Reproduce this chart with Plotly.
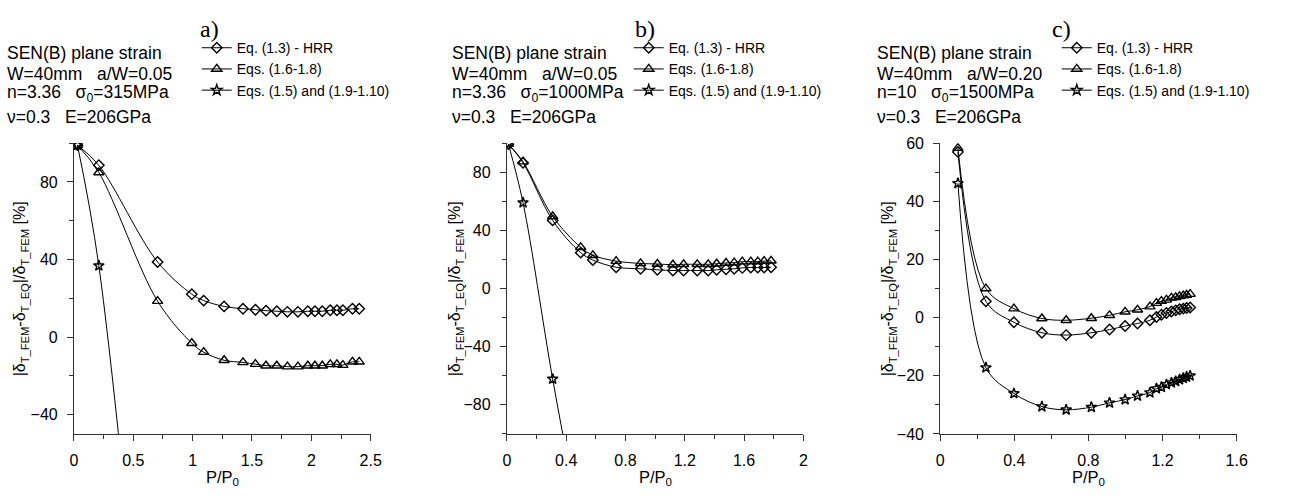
import plotly.graph_objects as go

W, H = 1306, 497

# ---------------- data ----------------
# panel a
xa = [0.03, 0.21, 0.705, 0.993, 1.093, 1.265, 1.424, 1.529, 1.618, 1.709, 1.798,
      1.887, 1.970, 2.030, 2.092, 2.159, 2.215, 2.265, 2.346, 2.403]
a_hrr = [99, 88.6, 38.7, 22.1, 18.8, 15.8, 14.6, 14.1, 13.6, 13.3, 13.0,
         13.0, 13.3, 13.3, 13.3, 13.8, 13.8, 13.8, 14.6, 14.6]
a_eqs = [99, 84.9, 18.5, -3.2, -7.8, -12.0, -13.1, -14.0, -14.8, -14.8, -15.3,
         -15.3, -14.8, -14.8, -14.8, -14.1, -14.1, -14.5, -12.8, -12.8]
xa_star = [0.03, 0.21, 0.705]
a_star = [99, 36.8, -255]

# panel b
xb = [0.01, 0.109, 0.309, 0.498, 0.58, 0.737, 0.902, 1.015, 1.12, 1.192, 1.284,
      1.358, 1.415, 1.478, 1.533, 1.588, 1.645, 1.692, 1.735, 1.782]
b_hrr = [99.5, 86.5, 46.9, 24.7, 19.6, 14.7, 13.6, 12.9, 12.4, 12.4, 12.4,
         12.4, 12.9, 13.3, 13.6, 14.2, 14.5, 14.5, 14.5, 14.7]
b_eqs = [99.5, 87.3, 49.6, 28.4, 22.9, 18.9, 17.3, 16.9, 16.4, 16.7, 16.7,
         16.7, 17.1, 17.6, 17.8, 18.5, 18.5, 18.5, 18.9, 19.1]
xb_star = [0.01, 0.109, 0.309, 0.498]
b_star = [99.5, 59.1, -62.2, -165]

# panel c
xc = [0.096, 0.247, 0.398, 0.549, 0.680, 0.816, 0.914, 0.998, 1.065, 1.132,
      1.167, 1.194, 1.221, 1.248, 1.271, 1.292, 1.312, 1.330, 1.349]
c_hrr = [57, 5.6, -1.6, -5.2, -6.0, -5.2, -4.1, -2.9, -2.0, -0.9,
         0.2, 1.0, 1.6, 2.1, 2.5, 2.9, 3.1, 3.3, 3.5]
c_eqs = [58.3, 10, 3.1, -0.3, -0.9, -0.2, 0.8, 2.0, 2.7, 3.8,
         5.0, 5.7, 6.1, 6.8, 7.0, 7.3, 7.6, 7.8, 8.1]
c_star = [46.2, -17.2, -26.1, -30.6, -31.7, -30.8, -29.3, -28.2, -26.9, -25.8,
          -24.4, -23.9, -23.0, -22.4, -21.9, -21.3, -20.8, -20.4, -20.0]

series_names = ["Eq. (1.3) - HRR", "Eqs. (1.6-1.8)", "Eqs. (1.5) and (1.9-1.10)"]
panel_labels = ["a)", "b)", "c)"]
info_lines = [
    ["SEN(B) plane strain", "W=40mm\u00a0\u00a0\u00a0a/W=0.05",
     "n=3.36\u00a0\u00a0\u00a0σ<sub>0</sub>=315MPa", "ν=0.3\u00a0\u00a0\u00a0E=206GPa"],
    ["SEN(B) plane strain", "W=40mm\u00a0\u00a0\u00a0a/W=0.05",
     "n=3.36\u00a0\u00a0\u00a0σ<sub>0</sub>=1000MPa", "ν=0.3\u00a0\u00a0\u00a0E=206GPa"],
    ["SEN(B) plane strain", "W=40mm\u00a0\u00a0\u00a0a/W=0.20",
     "n=10\u00a0\u00a0\u00a0σ<sub>0</sub>=1500MPa", "ν=0.3\u00a0\u00a0\u00a0E=206GPa"],
]

# ---------------- styling ----------------
FONT = "Liberation Sans, Arial, sans-serif"
SERIF = "Liberation Serif, Times New Roman, serif"
symbols = ["diamond-open", "triangle-up-open", "star-open"]
msizes = [8, 9, 8]

# pixel layout
plot_left = [70.7, 508.7, 947.0]
plot_right = [371.0, 808.7, 1247.0]
plot_top, plot_bottom = 140.0, 441.0
xranges = [[0, 2.5], [0, 2.0], [0, 1.6]]
yranges = [[-50, 100], [-100, 100], [-40, 60]]
xdt = [0.5, 0.4, 0.4]
xmdt = [0.25, 0.2, 0.2]
ydt = [40, 40, 20]
ymdt = [20, 20, 10]
legend_left = [195, 632, 1065]
label_x = [208, 648, 1070]
info_x = [3, 453, 883]
info_y = [47, 68, 89, 113]
ytitle_x = [17, 457, 895]

def px(x):
    return x / W

def py(y):
    return 1 - y / H

fig = go.Figure()

panels = [
    (xa, [a_hrr, a_eqs], xa_star, a_star),
    (xb, [b_hrr, b_eqs], xb_star, b_star),
    (xc, [c_hrr, c_eqs], xc, c_star),
]

annotations = []
for i, (xs, ys2, xstar, ystar) in enumerate(panels):
    ax = "" if i == 0 else str(i + 1)
    leg = "legend" if i == 0 else f"legend{i + 1}"
    data = [(xs, ys2[0]), (xs, ys2[1]), (xstar, ystar)]
    for k, (xx, yy) in enumerate(data):
        fig.add_trace(go.Scatter(
            x=xx, y=yy, mode="lines+markers", name=series_names[k],
            xaxis="x" + ax, yaxis="y" + ax, legend=leg,
            line=dict(color="black", width=1, shape="spline", smoothing=1.0),
            marker=dict(symbol=symbols[k], size=msizes[k], color="black",
                        line=dict(color="black", width=1.4)),
            cliponaxis=True,
        ))
    dom_x = [px(plot_left[i]), px(plot_right[i])]
    dom_y = [py(plot_bottom), py(plot_top)]
    axis_common = dict(showline=True, linecolor="#333", linewidth=1, ticks="outside",
                       tickcolor="#333", ticklen=6, tickwidth=1, showgrid=False,
                       zeroline=False, tickfont=dict(family=FONT, size=16, color="black"))
    fig.update_layout(**{
        "xaxis" + ax: dict(domain=dom_x, range=xranges[i], tick0=0, dtick=xdt[i],
                           anchor="y" + ax, ticklabelstandoff=6,
                           minor=dict(dtick=xmdt[i], ticks="outside", ticklen=4,
                                      tickcolor="#333", showgrid=False),
                           **axis_common),
        "yaxis" + ax: dict(domain=dom_y, range=yranges[i], tick0=0, dtick=ydt[i],
                           anchor="x" + ax, ticklabelstandoff=6,
                           minor=dict(dtick=ymdt[i], ticks="outside", ticklen=4,
                                      tickcolor="#333", showgrid=False),
                           **axis_common),
        leg: dict(x=px(legend_left[i]), y=py(25), xanchor="left", yanchor="top",
                  bgcolor="rgba(0,0,0,0)", borderwidth=0, itemwidth=30,
                  font=dict(family=FONT, size=14, color="black"),
                  tracegroupgap=0, itemclick=False),
    })
    # panel label
    annotations.append(dict(text=panel_labels[i], x=px(label_x[i]), y=py(22),
                            xref="paper", yref="paper", xanchor="center", yanchor="middle",
                            showarrow=False, borderpad=0, borderwidth=0,
                            font=dict(family=SERIF, size=24, color="black")))
    # info text
    for j, t in enumerate(info_lines[i]):
        annotations.append(dict(text=t, x=px(info_x[i]), y=py(info_y[j]),
                                xref="paper", yref="paper", xanchor="left", yanchor="middle",
                                showarrow=False, borderpad=0, borderwidth=0,
                                font=dict(family=FONT, size=17.5, color="black")))
    # y title
    annotations.append(dict(
        text="|δ<sub>T_FEM</sub>-δ<sub>T_EQ</sub>|/δ<sub>T_FEM</sub> [%]",
        x=px(ytitle_x[i]), y=py((plot_top + plot_bottom) / 2), xref="paper", yref="paper",
        xanchor="center", yanchor="middle", textangle=-90, showarrow=False,
        borderpad=0, borderwidth=0,
        font=dict(family=FONT, size=16, color="black")))
    # x title
    annotations.append(dict(
        text="P/P<sub>0</sub>", x=px((plot_left[i] + plot_right[i]) / 2), y=0,
        xref="paper", yref="paper", xanchor="center", yanchor="bottom", showarrow=False,
        borderpad=0, borderwidth=0,
        font=dict(family=FONT, size=16.5, color="black")))

fig.update_layout(
    width=W, height=H, margin=dict(l=0, r=0, t=0, b=0),
    paper_bgcolor="white", plot_bgcolor="white",
    annotations=annotations, showlegend=True,
    font=dict(family=FONT, color="black"),
)

fig.write_html("out.html")
